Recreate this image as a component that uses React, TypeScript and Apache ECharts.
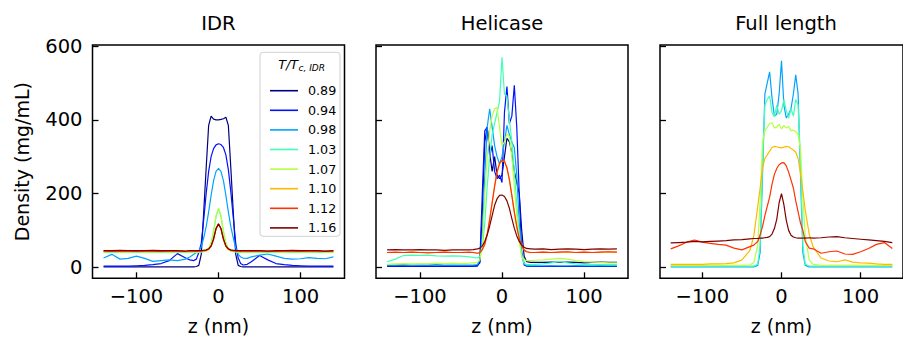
import React, { useEffect, useRef } from "react";
import * as echarts from "echarts";

const FONT = "DejaVu Sans";

// z positions (nm) shared by all profiles
const Z = [-140,-130,-120,-110,-100,-90,-80,-70,-60,-50,-40,-35,-30,-27,-24,-21,-18,-15,-12,-9,-6,-3,0,3,6,9,12,15,18,21,24,27,30,35,40,50,60,70,80,90,100,110,120,130,140];

const TEMPS = ["0.89","0.94","0.98","1.03","1.07","1.10","1.12","1.16"];
const COLORS = ["#000080","#0012ff","#00a4ff","#41ffb6","#b6ff41","#ffb900","#ff3200","#800000"];

const PANEL_TITLES = ["IDR","Helicase","Full length"];
const X_TICKS = [-100, 0, 100];
const Y_TICKS = [0, 200, 400, 600];

// ---- IDR ----
const idr089 = [1,1,1,1,1,1,1,1,1,1,1, 1,1, 2,5,35,150,270,385,410,402,400,400,401,403,407,385,270,150,35,5,2, 1,1, 1,1,1,1,1,1,1,1,1,1,1];
const idr094 = [3,3,3,3,4,5,7,10,18,37,25, 20,18, 22,40,65,130,200,260,300,322,332,335,333,325,305,265,205,135,65,25,10, 6,8, 15,32,20,10,7,5,4,3,3,3,3];
const idr098 = [25,35,22,24,30,24,16,18,20,18,22, 28,35, 40,45,55,80,110,150,195,235,260,268,260,235,195,150,110,80,52,35,28, 25,24, 28,33,36,30,24,22,23,26,24,23,28];
const idr103 = [40,40,40,40,40,40,40,40,40,40,40, 40,40, 40,40,41,42,44,50,65,95,138,158,138,95,65,50,44,42,41,40,40, 40,40, 40,40,40,40,40,40,40,40,40,40,40];
const idr107 = [41,42,41,41,42,41,41,42,41,41,42, 41,41, 41,41,42,43,45,51,66,97,140,160,140,97,66,51,45,43,42,41,41, 41,42, 41,41,42,41,41,42,41,41,42,41,41];
const idr110 = [43,43,43,43,43,43,43,43,43,43,43, 43,43, 43,43,43,44,45,48,56,75,104,117,104,75,56,48,45,44,43,43,43, 43,43, 43,43,43,43,43,43,43,43,43,43,43];
const idr112 = [44,43,44,44,43,44,44,43,44,44,43, 44,44, 43,44,44,45,46,49,57,76,105,117,105,76,57,49,46,45,44,44,43, 44,44, 43,44,44,43,44,44,43,44,44,43,44];
const idr116 = [45,45,46,45,45,45,46,45,45,45,44, 45,45, 45,45,45,46,47,50,58,77,105,118,105,77,58,50,47,46,45,45,45, 45,45, 45,45,44,45,45,46,45,45,45,44,45];

// ---- Helicase ----
const hel089 = [4,4,4,3,4,4,3,4,4,4,4, 4,5, 12,150,340,380,310,260,300,250,240,250,300,350,340,310,260,230,200,100,30, 15,13, 13,13,14,13,14,13,12,13,14,13,13];
const hel094 = [2,2,2,2,2,2,2,2,2,2,2, 2,3, 15,200,370,380,300,330,260,240,250,230,420,490,390,410,494,380,200,40,6, 3,2, 2,2,3,2,2,3,2,2,3,2,2];
const hel098 = [6,6,7,6,6,6,7,6,6,6,6, 6,7, 20,80,250,380,430,380,330,300,280,300,340,385,360,340,325,250,120,40,10, 5,4, 4,4,4,4,4,4,4,4,4,4,4];
const hel103 = [15,22,32,33,32,33,31,30,31,30,28, 27,25, 30,50,120,220,300,360,390,420,450,570,470,465,400,340,260,170,90,30,10, 7,7, 8,9,12,15,12,9,8,7,7,7,7];
const hel107 = [8,9,10,9,10,10,11,10,11,10,11, 12,13, 20,60,200,300,370,410,430,433,380,330,340,362,355,300,220,140,70,30,20, 18,18, 19,20,22,24,22,18,15,14,13,12,12];
const hel110 = [40,40,40,41,40,40,40,41,40,40,40, 40,38, 40,48,62,89,129,174,219,257,281,289,287,269,237,194,149,109,77,58,47, 42,40, 40,41,40,41,41,40,41,40,41,41,41];
const hel112 = [40,41,40,41,40,39,40,41,40,40,41, 40,38, 40,48,62,90,130,175,220,258,282,290,288,270,238,195,150,110,78,58,47, 42,40, 40,41,40,41,42,40,41,40,41,42,41];
const hel116 = [47,48,47,47,48,47,47,46,47,47,47, 48,50, 52,58,70,88,112,140,168,186,195,196,192,180,160,132,106,85,70,60,54, 51,50, 49,50,48,49,50,49,48,49,50,49,50];

// ---- Full length (0.98 and above) ----
const fl098 = [1,1,1,1,1,1,1,1,1,1,1, 1,5, 40,250,470,500,530,460,410,415,470,560,440,405,415,430,470,522,470,250,40, 5,1, 1,1,1,1,1,1,1,1,1,1,1];
const fl103 = [3,3,3,3,3,3,3,3,3,3,3, 3,8, 60,280,440,455,465,420,408,440,415,425,455,425,405,430,410,455,440,280,60, 8,3, 3,3,3,3,3,3,3,3,3,3,3];
const fl107 = [5,5,5,5,5,5,5,5,5,5,6, 12,60, 180,340,370,380,390,392,378,380,388,375,385,378,382,370,372,368,360,320,190, 85,20, 8,5,5,5,5,5,5,5,5,5,5];
const fl110 = [8,8,8,8,8,9,9,10,12,20,45, 85,165, 215,270,295,305,315,325,328,327,325,324,326,328,327,322,318,312,295,255,205, 155,90, 55,25,17,15,20,14,12,11,9,8,8];
const fl112 = [50,58,68,74,68,65,62,60,52,47,56, 60,70, 88,110,140,165,190,225,252,268,278,283,284,275,258,237,215,180,150,120,100, 70,52, 50,38,42,44,36,35,42,51,62,67,51];
const fl116 = [66,67,68,70,69,70,71,72,74,75,77, 78,78, 79,79,80,81,83,90,105,130,175,200,170,128,100,87,82,80,79,79,79, 79,80, 79,80,82,83,80,78,76,74,72,70,67];

const PANELS: (number[] | null)[][] = [
  [idr089, idr094, idr098, idr103, idr107, idr110, idr112, idr116],
  [hel089, hel094, hel098, hel103, hel107, hel110, hel112, hel116],
  [null, null, fl098, fl103, fl107, fl110, fl112, fl116],
];

const GRID_LEFTS = [92.5, 376, 660];
const GRID_W = 252;
const GRID_TOP = 45;
const GRID_H = 233.3;

const fmt = (v: number) => (v < 0 ? "\u2212" + Math.abs(v) : String(v));

export default function App() {
  const ref = useRef<HTMLDivElement>(null);
  useEffect(() => {
    if (!ref.current) return;
    const chart = echarts.init(ref.current, null, { renderer: "svg" });

    const grid = GRID_LEFTS.map((l) => ({
      left: l, top: GRID_TOP, width: GRID_W, height: GRID_H,
      show: true, borderColor: "#000", borderWidth: 1.5, backgroundColor: "transparent",
    }));
    const xAxis = GRID_LEFTS.map((_, i) => ({
      type: "value", gridIndex: i, min: -153.5, max: 153.5, position: "bottom",
      name: "z (nm)", nameLocation: "middle", nameGap: 38,
      nameTextStyle: { fontFamily: FONT, fontSize: 19, color: "#000" },
      axisLine: { show: false, onZero: false },
      axisTick: { show: true, inside: true, length: 6, lineStyle: { color: "#000", width: 1.3 }, customValues: X_TICKS },
      axisLabel: { show: true, margin: 8, fontFamily: FONT, fontSize: 19.5, color: "#000", customValues: X_TICKS, formatter: fmt },
      splitLine: { show: false },
    }));
    const yAxis = GRID_LEFTS.map((_, i) => ({
      type: "value", gridIndex: i, min: -30, max: 603, position: "left",
      name: i === 0 ? "Density (mg/mL)" : "", nameLocation: "middle", nameGap: 61, nameRotate: 90,
      nameTextStyle: { fontFamily: FONT, fontSize: 19, color: "#000" },
      axisLine: { show: false, onZero: false },
      axisTick: { show: true, inside: true, length: 6, lineStyle: { color: "#000", width: 1.3 }, customValues: Y_TICKS },
      axisLabel: { show: i === 0, margin: 10, fontFamily: FONT, fontSize: 19.5, color: "#000", customValues: Y_TICKS, formatter: fmt },
      splitLine: { show: false },
    }));

    const series: any[] = [];
    PANELS.forEach((panel, p) => {
      panel.forEach((vals, k) => {
        if (!vals) return;
        series.push({
          type: "line", name: TEMPS[k], xAxisIndex: p, yAxisIndex: p,
          data: Z.map((z, j) => [z, vals[j]]),
          showSymbol: false, symbol: "none", color: COLORS[k],
          lineStyle: { width: 1.2, color: COLORS[k] },
          clip: true, silent: true,
        });
      });
    });

    const graphic: any[] = PANEL_TITLES.map((t, i) => ({
      type: "text", x: GRID_LEFTS[i] + GRID_W / 2, y: 23,
      style: { text: t, fontFamily: FONT, fontSize: 19.5, fill: "#000", align: "center", verticalAlign: "middle" },
    }));
    graphic.push({
      type: "rect", z: 3, shape: { x: 260, y: 52.3, width: 80, height: 184, r: 3 },
      style: { fill: "rgba(255,255,255,0.8)", stroke: "#d0d0d0", lineWidth: 1 },
    });
    graphic.push({
      type: "text", z: 5, x: 298, y: 64,
      style: { text: "T/T", fontFamily: FONT, fontSize: 12.7, fontStyle: "italic", fill: "#000", align: "right", verticalAlign: "middle" },
    });
    graphic.push({
      type: "text", z: 5, x: 298.5, y: 68,
      style: { text: "c, IDR", fontFamily: FONT, fontSize: 9, fontStyle: "italic", fill: "#000", align: "left", verticalAlign: "middle" },
    });

    chart.setOption({
      animation: false,
      backgroundColor: "#fff",
      grid, xAxis, yAxis, series, graphic,
      legend: {
        data: TEMPS.map((n) => ({ name: n, icon: "rect" })),
        orient: "vertical", left: 265, top: 78.7,
        itemWidth: 28, itemHeight: 1.6, itemGap: 5.6,
        selectedMode: false, z: 6,
        textStyle: { fontFamily: FONT, fontSize: 12.7, color: "#000", lineHeight: 14, padding: [0, 0, 0, 5] },
      },
    });
    return () => chart.dispose();
  }, []);
  return <div ref={ref} style={{ position: "absolute", left: 0, top: 0, width: 903, height: 341 }} />;
}
